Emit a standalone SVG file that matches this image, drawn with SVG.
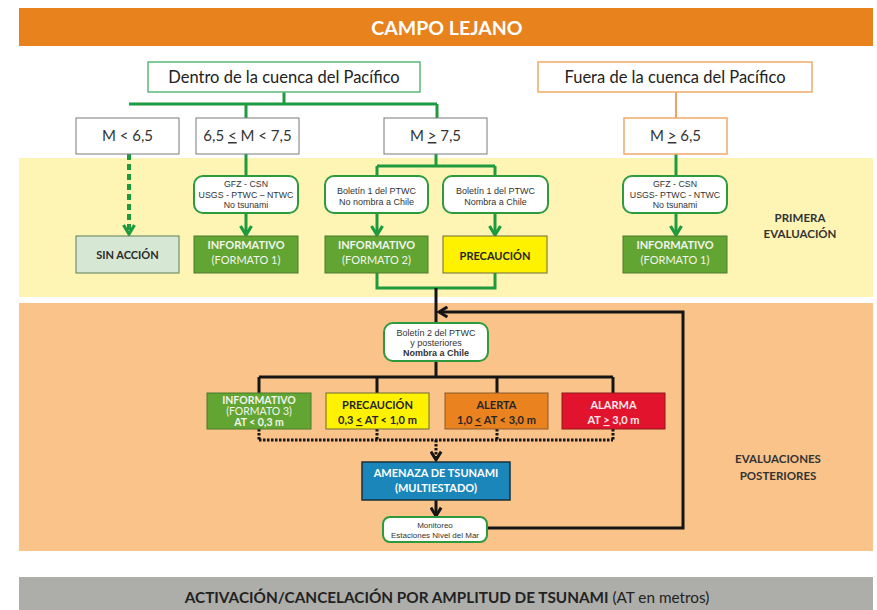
<svg xmlns="http://www.w3.org/2000/svg" width="877" height="610" viewBox="0 0 877 610">
<style>
.cal{font-family:Lato,"Open Sans","Liberation Sans",sans-serif}
.ari{font-family:"Liberation Sans",Arial,sans-serif}
.b{font-weight:bold}
.u{text-decoration:underline}
.g{fill:none;stroke:#1e9a3f;stroke-width:3}
.gd{fill:none;stroke:#1e9a3f;stroke-width:4;stroke-dasharray:6 4}
.k{fill:none;stroke:#151515;stroke-width:3}
.kd{fill:none;stroke:#151515;stroke-width:3;stroke-dasharray:2.5 1.5}
.mbox{fill:#fff;stroke:#7a7a7a;stroke-width:1}
.rbox{fill:#fff;stroke:#2e9a3e;stroke-width:2}
.grn{fill:#62a532;stroke:#4a7a2c;stroke-width:1}
.wt{fill:#f2f4ee}
.dk{fill:#262626}
</style>
<defs>
<marker id="ag" viewBox="0 0 14 14" refX="11" refY="7" markerWidth="14" markerHeight="14" markerUnits="userSpaceOnUse" orient="auto">
<path d="M2,1.5 L11,7 L2,12.5" fill="none" stroke="#1e9a3f" stroke-width="3.2"/>
</marker>
<marker id="ak" viewBox="0 0 14 14" refX="11" refY="7" markerWidth="13" markerHeight="13" markerUnits="userSpaceOnUse" orient="auto">
<path d="M2,1.5 L11,7 L2,12.5" fill="none" stroke="#151515" stroke-width="3.2"/>
</marker>
</defs>

<!-- bands -->
<rect x="19" y="8" width="854" height="38" fill="#e8821c"/>
<text class="cal b" x="447" y="35" font-size="19.5" fill="#fff" text-anchor="middle">CAMPO LEJANO</text>
<rect x="19" y="158" width="854" height="139" fill="#fef5b5"/>
<rect x="19" y="303" width="854" height="248" fill="#f9c38a"/>
<rect x="19" y="577" width="854" height="33" fill="#adada9"/>
<text class="cal" x="447" y="603" font-size="15.3" fill="#222" text-anchor="middle"><tspan font-weight="bold">ACTIVACIÓN/CANCELACIÓN POR AMPLITUD DE TSUNAMI</tspan> (AT en metros)</text>
<text class="cal b" x="800" y="222" font-size="11.5" fill="#333" text-anchor="middle">PRIMERA</text>
<text class="cal b" x="800" y="238" font-size="11.5" fill="#333" text-anchor="middle">EVALUACIÓN</text>
<text class="cal b" x="778" y="463" font-size="11.5" fill="#333" text-anchor="middle">EVALUACIONES</text>
<text class="cal b" x="778" y="480" font-size="11.5" fill="#333" text-anchor="middle">POSTERIORES</text>

<!-- connectors -->
<g id="connectors">
<path class="g" d="M284,92 V104 M129,104 H437 M246,104 V118 M437,104 V118"/>
<path class="gd" d="M129,154 V234" marker-end="url(#ag)"/>
<path class="g" d="M246,154 V176"/>
<path class="g" d="M246,213 V235" marker-end="url(#ag)"/>
<path class="g" d="M436,154 V166 M377,166 H495 M377,166 V176 M495,166 V176"/>
<path class="g" d="M377,213 V235" marker-end="url(#ag)"/>
<path class="g" d="M495,213 V235" marker-end="url(#ag)"/>
<path class="g" d="M377,273 V288 H495 V273"/>
<path d="M676,92 V118" fill="none" stroke="#f0a060" stroke-width="2"/>
<path class="g" d="M676,154 V176"/>
<path class="g" d="M676,213 V235" marker-end="url(#ag)"/>
<path class="k" d="M436,288 V323"/>
<path class="k" d="M487,528 H683 V312 H439" marker-end="url(#ak)"/>
<path class="k" d="M436,361 V377 M259,377 H613 M259,377 V393 M377,377 V393 M497,377 V393 M613,377 V393"/>
<path class="kd" d="M259,429 V440 M377,429 V440 M497,429 V440 M613,429 V440 M259,440 H613"/>
<path class="kd" d="M436,440 V460" marker-end="url(#ak)"/>
<path class="k" d="M436,500 V516" marker-end="url(#ak)"/>
</g>

<!-- nodes -->
<g id="dentro">
<rect x="148" y="62" width="272" height="30" fill="#fff" stroke="#5bb87a" stroke-width="1.5"/>
<text class="cal" x="284" y="83" font-size="16.5" fill="#222" text-anchor="middle">Dentro de la cuenca del Pacífico</text>
</g>
<g id="fuera">
<rect x="538" y="62" width="274" height="30" fill="#fff" stroke="#f2a96a" stroke-width="1.5"/>
<text class="cal" x="675" y="83" font-size="16.5" fill="#222" text-anchor="middle">Fuera de la cuenca del Pacífico</text>
</g>
<g id="m1">
<rect class="mbox" x="76" y="118" width="103" height="36"/>
<text class="cal" x="127.5" y="141" font-size="15" fill="#333" text-anchor="middle">M &lt; 6,5</text>
</g>
<g id="m2">
<rect class="mbox" x="196" y="118" width="103" height="36"/>
<text class="cal" x="247.5" y="141" font-size="15" fill="#333" text-anchor="middle">6,5 <tspan class="u">&lt;</tspan> M &lt; 7,5</text>
</g>
<g id="m3">
<rect class="mbox" x="384" y="118" width="103" height="36"/>
<text class="cal" x="435.5" y="141" font-size="15" fill="#333" text-anchor="middle">M <tspan class="u">&gt;</tspan> 7,5</text>
</g>
<g id="m4">
<rect x="624" y="118" width="103" height="36" fill="#fff" stroke="#f2a96a" stroke-width="1.5"/>
<text class="cal" x="675.5" y="141" font-size="15" fill="#333" text-anchor="middle">M <tspan class="u">&gt;</tspan> 6,5</text>
</g>

<g id="sinaccion">
<rect x="76" y="236" width="103" height="37" fill="#d6e8d4" stroke="#5b7f5b" stroke-width="1"/>
<text class="cal b" x="127.5" y="259" font-size="11" fill="#2a2a2a" text-anchor="middle">SIN ACCIÓN</text>
</g>
<g id="gfz1">
<rect class="rbox" x="194" y="176" width="104" height="37" rx="9"/>
<text class="ari" x="246" y="187" font-size="8.8" fill="#333" text-anchor="middle">GFZ - CSN</text>
<text class="ari" x="246" y="197.5" font-size="8.8" fill="#333" text-anchor="middle">USGS - PTWC – NTWC</text>
<text class="ari" x="246" y="208" font-size="8.8" fill="#333" text-anchor="middle">No tsunami</text>
</g>
<g id="inf1">
<rect class="grn" x="194" y="236" width="104" height="37"/>
<text class="cal b wt" x="246" y="249" font-size="11" text-anchor="middle">INFORMATIVO</text>
<text class="cal wt" x="246" y="264" font-size="11" text-anchor="middle">(FORMATO 1)</text>
</g>
<g id="bol1a">
<rect class="rbox" x="325" y="176" width="103" height="37" rx="9"/>
<text class="ari" x="376.5" y="194" font-size="9" fill="#333" text-anchor="middle">Boletín 1 del PTWC</text>
<text class="ari" x="376.5" y="205" font-size="9" fill="#333" text-anchor="middle">No nombra a Chile</text>
</g>
<g id="bol1b">
<rect class="rbox" x="443" y="176" width="105" height="37" rx="9"/>
<text class="ari" x="495.5" y="194" font-size="9" fill="#333" text-anchor="middle">Boletín 1 del PTWC</text>
<text class="ari" x="495.5" y="205" font-size="9" fill="#333" text-anchor="middle">Nombra a Chile</text>
</g>
<g id="inf2">
<rect class="grn" x="325" y="236" width="103" height="37"/>
<text class="cal b wt" x="376.5" y="249" font-size="11" text-anchor="middle">INFORMATIVO</text>
<text class="cal wt" x="376.5" y="264" font-size="11" text-anchor="middle">(FORMATO 2)</text>
</g>
<g id="prec1">
<rect x="443" y="236" width="104" height="37" fill="#fff200" stroke="#6b6b3a" stroke-width="1"/>
<text class="cal b dk" x="495" y="260" font-size="11" text-anchor="middle">PRECAUCIÓN</text>
</g>
<g id="gfz2">
<rect class="rbox" x="623" y="176" width="104" height="37" rx="9"/>
<text class="ari" x="675" y="187" font-size="8.8" fill="#333" text-anchor="middle">GFZ - CSN</text>
<text class="ari" x="675" y="197.5" font-size="8.8" fill="#333" text-anchor="middle">USGS- PTWC - NTWC</text>
<text class="ari" x="675" y="208" font-size="8.8" fill="#333" text-anchor="middle">No tsunami</text>
</g>
<g id="inf1b">
<rect class="grn" x="623" y="236" width="104" height="37"/>
<text class="cal b wt" x="675" y="249" font-size="11" text-anchor="middle">INFORMATIVO</text>
<text class="cal wt" x="675" y="264" font-size="11" text-anchor="middle">(FORMATO 1)</text>
</g>

<g id="bol2">
<rect class="rbox" x="384" y="323" width="104" height="38" rx="9"/>
<text class="ari" x="436" y="336" font-size="9" fill="#333" text-anchor="middle">Boletín 2 del PTWC</text>
<text class="ari" x="436" y="346" font-size="9" fill="#333" text-anchor="middle">y posteriores</text>
<text class="ari b" x="436" y="356" font-size="9" fill="#333" text-anchor="middle">Nombra a Chile</text>
</g>
<g id="inf3">
<rect class="grn" x="207" y="393" width="104" height="36"/>
<text class="cal b wt" x="259" y="403.5" font-size="10.5" text-anchor="middle">INFORMATIVO</text>
<text class="cal wt" x="259" y="414.5" font-size="10.5" text-anchor="middle">(FORMATO 3)</text>
<text class="cal b wt" x="259" y="425.5" font-size="10.5" text-anchor="middle">AT &lt; 0,3 m</text>
</g>
<g id="prec2">
<rect x="326" y="393" width="103" height="36" fill="#fff200" stroke="#6b6b3a" stroke-width="1"/>
<text class="cal b dk" x="377.5" y="409" font-size="11" text-anchor="middle">PRECAUCIÓN</text>
<text class="cal b dk" x="377.5" y="424" font-size="11" text-anchor="middle">0,3 <tspan class="u">&lt;</tspan> AT &lt; 1,0 m</text>
</g>
<g id="alerta">
<rect x="445" y="393" width="103" height="36" fill="#e9821f" stroke="#8b5a2b" stroke-width="1"/>
<text class="cal b dk" x="496.5" y="409" font-size="11" text-anchor="middle">ALERTA</text>
<text class="cal b dk" x="496.5" y="424" font-size="11" text-anchor="middle">1,0 <tspan class="u">&lt;</tspan> AT &lt; 3,0 m</text>
</g>
<g id="alarma">
<rect x="562" y="393" width="103" height="36" fill="#e2142d" stroke="#8a1a1a" stroke-width="1"/>
<text class="cal b" x="613.5" y="409" font-size="11" fill="#fde8e8" text-anchor="middle">ALARMA</text>
<text class="cal b" x="613.5" y="424" font-size="11" fill="#fde8e8" text-anchor="middle">AT <tspan class="u">&gt;</tspan> 3,0 m</text>
</g>
<g id="amenaza">
<rect x="362" y="462" width="148" height="38" fill="#1b86ba" stroke="#1a2f3a" stroke-width="1.5"/>
<text class="cal b" x="436" y="477" font-size="11" fill="#fff" text-anchor="middle">AMENAZA DE TSUNAMI</text>
<text class="cal b" x="436" y="492" font-size="11" fill="#fff" text-anchor="middle">(MULTIESTADO)</text>
</g>
<g id="monitoreo">
<rect class="rbox" x="383" y="517" width="104" height="25" rx="7"/>
<text class="ari" x="435" y="528" font-size="8" fill="#333" text-anchor="middle">Monitoreo</text>
<text class="ari" x="435" y="537.5" font-size="8" fill="#333" text-anchor="middle">Estaciones Nivel del Mar</text>
</g>
</svg>
